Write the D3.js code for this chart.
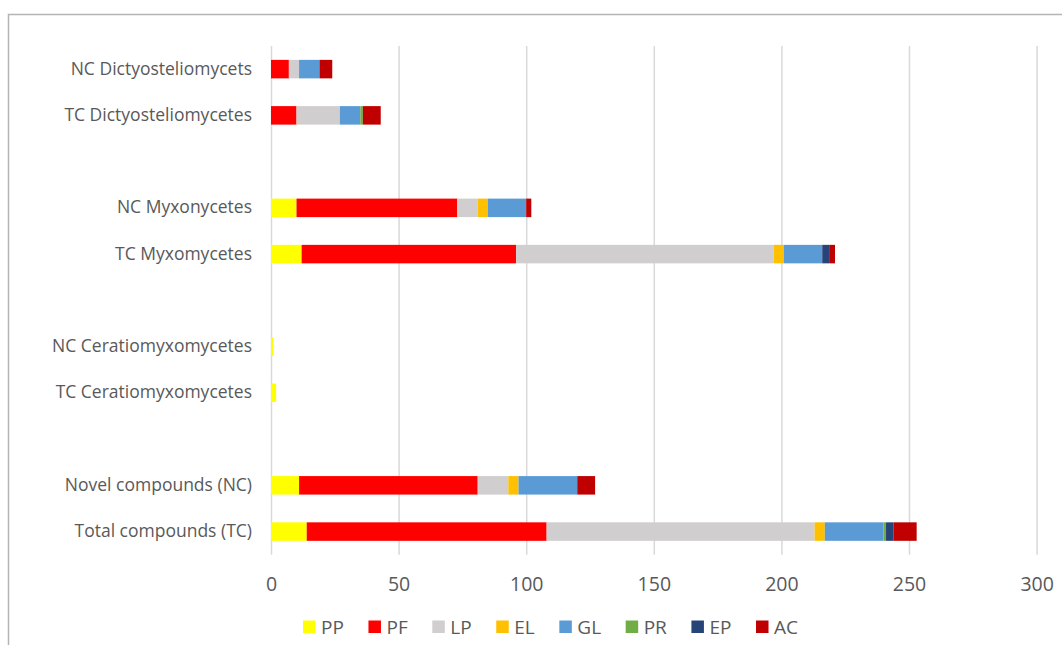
<!DOCTYPE html>
<html>
<head>
<meta charset="utf-8">
<script src="https://cdn.jsdelivr.net/npm/d3@7"></script>
<style>
  html, body { margin: 0; padding: 0; background: #fff; }
  svg { display: block; }
  text { font-family: "Open Sans", Lato, sans-serif; fill: #595959; }
</style>
</head>
<body>
<svg id="chart" width="1062" height="645"></svg>
<script>
// Compound counts by class; empty category names are spacer rows between groups
const categories = [
  "NC Dictyosteliomycets", "TC Dictyosteliomycetes", "",
  "NC Myxonycetes", "TC Myxomycetes", "",
  "NC Ceratiomyxomycetes", "TC Ceratiomyxomycetes", "",
  "Novel compounds (NC)", "Total compounds (TC)"
];
const seriesNames = ["PP", "PF", "LP", "EL", "GL", "PR", "EP", "AC"];
const seriesColors = ["#FFFF00", "#FF0000", "#D0CECE", "#FFC000", "#5B9BD5", "#70AD47", "#264478", "#C00000"];

const PP = [0, 0, 0, 10, 12, 0, 1, 2, 0, 11, 14];
const PF = [7, 10, 0, 63, 84, 0, 0, 0, 0, 70, 94];
const LP = [4, 17, 0, 8, 101, 0, 0, 0, 0, 12, 105];
const EL = [0, 0, 0, 4, 4, 0, 0, 0, 0, 4, 4];
const GL = [8, 8, 0, 15, 15, 0, 0, 0, 0, 23, 23];
const PR = [0, 1, 0, 0, 0, 0, 0, 0, 0, 0, 1];
const EP = [0, 0, 0, 0, 3, 0, 0, 0, 0, 0, 3];
const AC = [5, 7, 0, 2, 2, 0, 0, 0, 0, 7, 9];

const xTicks = [0, 50, 100, 150, 200, 250, 300];

const seriesValues = { PP, PF, LP, EL, GL, PR, EP, AC };
const rows = categories.map((c, i) => {
  const r = { idx: i, name: c };
  seriesNames.forEach(k => { r[k] = seriesValues[k][i]; });
  return r;
});

const svg = d3.select("#chart");

// chart frame
svg.append("rect")
  .attr("x", 8.5).attr("y", 14.5)
  .attr("width", 1100).attr("height", 700)
  .attr("fill", "none")
  .attr("stroke", "#b4b4b4")
  .attr("stroke-width", 1.5);

const plot = { left: 271, right: 1036.6, top: 46, bottom: 554.7 };

const x = d3.scaleLinear().domain([0, 300]).range([plot.left, plot.right]);
const y = d3.scaleBand()
  .domain(d3.range(categories.length))
  .range([plot.top, plot.bottom])
  .paddingInner(0.6)
  .paddingOuter(0.3);

// vertical gridlines
const grid = svg.append("g")
  .attr("transform", `translate(0,${plot.bottom})`)
  .call(d3.axisBottom(x).tickValues(xTicks).tickSize(-(plot.bottom - plot.top)).tickFormat(""));
grid.select(".domain").remove();
grid.selectAll("line").attr("stroke", "#d9d9d9").attr("stroke-width", 1.5);

// stacked bars
const stack = d3.stack().keys(seriesNames);
const layers = stack(rows);
const color = d3.scaleOrdinal().domain(seriesNames).range(seriesColors);

svg.append("g")
  .selectAll("g")
  .data(layers)
  .join("g")
  .attr("fill", d => color(d.key))
  .selectAll("rect")
  .data(d => d.filter(s => s[1] > s[0]))
  .join("rect")
  .attr("x", d => x(d[0]))
  .attr("width", d => x(d[1]) - x(d[0]))
  .attr("y", d => y(d.data.idx))
  .attr("height", y.bandwidth());

// x axis labels
const xAxis = svg.append("g")
  .attr("transform", `translate(0,${plot.bottom})`)
  .call(d3.axisBottom(x).tickValues(xTicks).tickSize(0).tickPadding(0));
xAxis.select(".domain").remove();
xAxis.selectAll("text")
  .attr("y", 36.5)
  .attr("dy", null)
  .style("font-size", "19.5px")
  .style("font-family", "'Open Sans', sans-serif")
  .attr("fill", "#595959");

// category labels
const yAxis = svg.append("g")
  .attr("transform", `translate(${plot.left},0)`)
  .call(d3.axisLeft(y).tickSize(0).tickPadding(19).tickFormat(i => categories[i]));
yAxis.select(".domain").remove();
yAxis.selectAll("text")
  .style("font-size", "17.5px")
  .style("font-family", "'Open Sans', sans-serif")
  .attr("fill", "#595959");

// legend
const legend = svg.append("g").attr("class", "legend");
const legendY = 627;
const items = legend.selectAll("g")
  .data(seriesNames)
  .join("g");
items.append("rect")
  .attr("width", 12.5).attr("height", 12.5)
  .attr("y", legendY - 6.5)
  .attr("fill", d => color(d));
items.append("text")
  .attr("x", 18)
  .attr("y", legendY)
  .attr("dy", "0.36em")
  .style("font-size", "19px")
  .text(d => d);

// lay out items left to right with equal gaps, spanning 303 → 798
const widths = [];
items.each(function () { widths.push(d3.select(this).select("text").node().getComputedTextLength() + 18); });
const start = 303, end = 798;
const gap = (end - start - d3.sum(widths)) / (widths.length - 1);
let cx = start;
items.each(function (d, i) {
  d3.select(this).attr("transform", `translate(${cx},0)`);
  cx += widths[i] + gap;
});
</script>
</body>
</html>
